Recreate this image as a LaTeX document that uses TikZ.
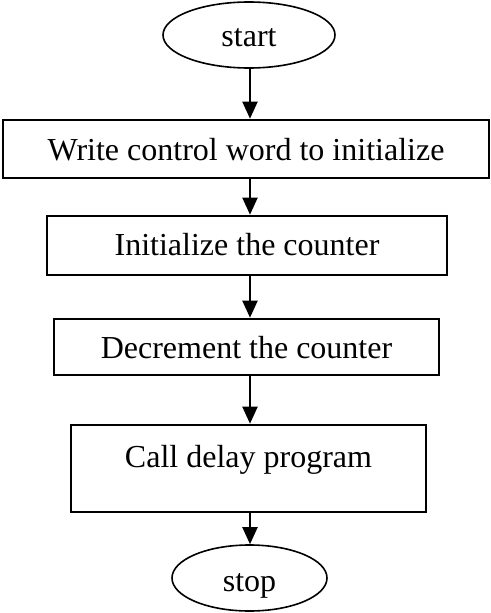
\documentclass[tikz,border=0pt]{standalone}
\usepackage{fontspec}
\setmainfont{Liberation Serif}
\usetikzlibrary{shapes.geometric,arrows.meta}
\begin{document}
\begin{tikzpicture}[x=1pt,y=-1pt,
  every node/.style={font=\fontsize{32}{38}\selectfont, inner sep=0pt, text height=22pt, text depth=0pt},
  terminal/.style={ellipse, draw, line width=1.6pt, minimum width=#1},
  procbox/.style={rectangle, draw, line width=2.6pt},
  flow/.style={line width=2pt, -{Triangle[width=15pt,length=17pt]}}]
  \useasboundingbox (0,0) rectangle (490,613);
  \fill[white] (0,0) rectangle (490,613);

  % terminals
  \node[terminal=172pt, minimum height=66pt] (start) at (249,35) {start};
  \node[terminal=155pt, minimum height=66pt, text height=27pt] (stop) at (249.5,578) {stop};

  % process steps
  \node[procbox, minimum width=486pt, minimum height=58pt] (init) at (246,149) {Write control word to initialize};
  \node[procbox, minimum width=400pt, minimum height=59pt, text depth=3pt] (counter) at (247,245.5) {Initialize the counter};
  \node[procbox, minimum width=385pt, minimum height=56pt] (decr) at (246.5,347) {Decrement the counter};
  \node[procbox, minimum width=355pt, minimum height=87pt, text depth=25pt] (delay) at (248.5,468.5) {Call delay program};

  % connectors along the centre line
  \coordinate (axis) at (250,0);
  \draw[flow] (axis |- start.south) -- (axis |- init.north);
  \draw[flow] (axis |- init.south) -- (axis |- counter.north);
  \draw[flow] (axis |- counter.south) -- (axis |- decr.north);
  \draw[flow] (axis |- decr.south) -- (axis |- delay.north);
  \draw[flow] (axis |- delay.south) -- (axis |- stop.north);
\end{tikzpicture}
\end{document}
